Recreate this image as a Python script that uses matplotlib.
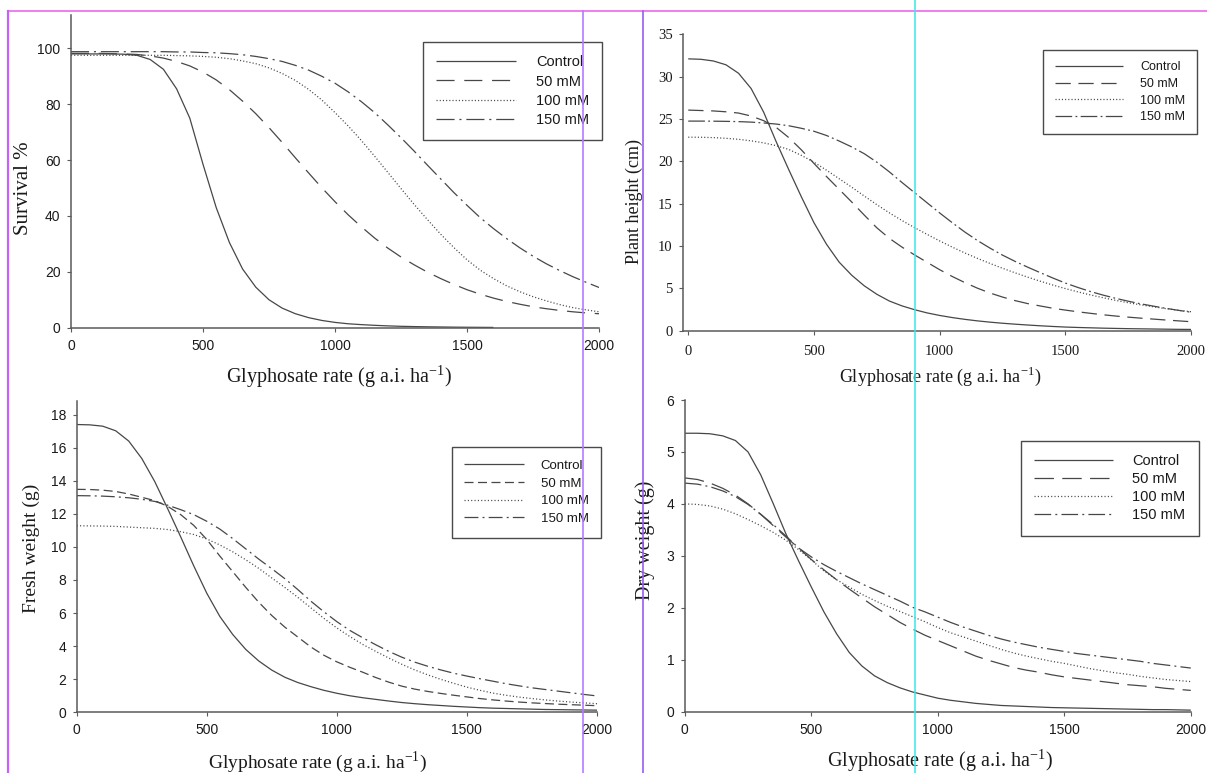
import numpy as np
import matplotlib
matplotlib.use("Agg")
import matplotlib.pyplot as plt
from matplotlib.lines import Line2D

plt.rcParams["lines.scale_dashes"] = False
plt.rcParams["mathtext.fontset"] = "custom"
plt.rcParams["mathtext.rm"] = "Liberation Serif"

# ---------------------------------------------------------------- data
rates = np.arange(0, 2001, 50)          # glyphosate rate, g a.i. ha-1
treatments = ["Control", "50 mM", "100 mM", "150 mM"]
x_ticks = [0, 500, 1000, 1500, 2000]

# Survival (%) -- the control curve stops at 1600
survival_rates_control = rates[:33]
survival_control = [98.0, 98.0, 98.0, 98.0, 97.9, 97.5, 96.0, 92.5, 85.5, 75.0, 58.5,
                    43.0, 30.5, 21.0, 14.5, 10.0, 7.0, 5.0, 3.6, 2.6, 1.9,
                    1.4, 1.1, 0.85, 0.65, 0.5, 0.4, 0.32, 0.26, 0.2, 0.16, 0.13, 0.1]
survival_50 = [98.2, 98.2, 98.2, 98.1, 98.0, 97.8, 97.3, 96.5, 95.3, 93.7, 91.5,
               88.7, 85.2, 81.1, 76.6, 71.6, 66.3, 60.8, 55.4, 50.1, 45.1,
               40.4, 36.1, 32.1, 28.5, 25.3, 22.5, 19.9, 17.6, 15.5, 13.6,
               12.0, 10.6, 9.4, 8.4, 7.5, 6.8, 6.2, 5.7, 5.3, 5.0]
survival_100 = [97.5, 97.5, 97.5, 97.5, 97.5, 97.5, 97.5, 97.5, 97.4, 97.3, 97.1,
                96.8, 96.3, 95.5, 94.5, 93.0, 91.0, 88.5, 85.3, 81.5, 77.0,
                72.2, 67.0, 61.4, 55.6, 49.8, 44.1, 38.7, 33.5, 28.7, 24.3,
                20.6, 17.6, 15.0, 12.9, 11.1, 9.6, 8.3, 7.2, 6.4, 5.7]
survival_150 = [98.8, 98.8, 98.8, 98.8, 98.8, 98.8, 98.8, 98.8, 98.7, 98.7, 98.5,
                98.4, 98.1, 97.7, 97.1, 96.3, 95.3, 93.9, 92.2, 90.0, 87.5,
                84.4, 80.9, 77.0, 72.6, 68.0, 63.2, 58.2, 53.3, 48.4, 43.8,
                39.4, 35.5, 31.9, 28.6, 25.6, 22.9, 20.5, 18.3, 16.3, 14.4]

# Plant height (cm)
height_control = [32.1, 32.05, 31.85, 31.4, 30.4, 28.6, 25.8, 22.3, 19.0, 15.8, 12.75,
                  10.2, 8.1, 6.55, 5.3, 4.3, 3.5, 2.93, 2.48, 2.1, 1.8,
                  1.55, 1.34, 1.16, 1.01, 0.88, 0.77, 0.67, 0.58, 0.5, 0.43,
                  0.38, 0.34, 0.3, 0.27, 0.24, 0.22, 0.2, 0.18, 0.16, 0.15]
height_50 = [26.05, 26.0, 25.95, 25.85, 25.7, 25.35, 24.8, 24.0, 22.8, 21.35, 19.75,
             18.2, 16.7, 15.2, 13.65, 12.15, 10.9, 9.87, 8.95, 8.07, 7.2,
             6.4, 5.68, 5.02, 4.45, 3.97, 3.55, 3.2, 2.92, 2.65, 2.43,
             2.23, 2.05, 1.88, 1.73, 1.6, 1.48, 1.37, 1.26, 1.16, 1.06]
height_100 = [22.85, 22.84, 22.8, 22.72, 22.6, 22.42, 22.18, 21.85, 21.4, 20.7, 19.9,
              18.95, 17.95, 16.95, 15.9, 14.88, 13.91, 13.01, 12.17, 11.37, 10.6,
              9.87, 9.18, 8.54, 7.94, 7.37, 6.83, 6.32, 5.84, 5.39, 4.97,
              4.58, 4.22, 3.89, 3.58, 3.3, 3.05, 2.82, 2.6, 2.41, 2.24]
height_150 = [24.75, 24.75, 24.74, 24.72, 24.69, 24.63, 24.53, 24.4, 24.2, 23.9, 23.55,
              23.05, 22.4, 21.7, 20.9, 19.9, 18.75, 17.5, 16.3, 15.1, 13.9,
              12.75, 11.65, 10.65, 9.75, 8.92, 8.18, 7.5, 6.85, 6.22, 5.62,
              5.1, 4.62, 4.2, 3.82, 3.48, 3.17, 2.9, 2.64, 2.4, 2.18]

# Fresh weight (g)
fresh_control = [17.4, 17.38, 17.3, 17.02, 16.4, 15.35, 13.95, 12.3, 10.6, 8.85, 7.2,
                 5.8, 4.7, 3.8, 3.1, 2.55, 2.12, 1.8, 1.55, 1.33, 1.15,
                 1.0, 0.88, 0.78, 0.68, 0.59, 0.52, 0.46, 0.41, 0.36, 0.32,
                 0.28, 0.25, 0.23, 0.21, 0.19, 0.17, 0.16, 0.15, 0.14, 0.13]
fresh_50 = [13.48, 13.47, 13.43, 13.35, 13.2, 13.0, 12.8, 12.45, 11.95, 11.3, 10.45,
            9.45, 8.5, 7.55, 6.65, 5.85, 5.15, 4.55, 3.95, 3.45, 3.05,
            2.72, 2.42, 2.1, 1.82, 1.58, 1.4, 1.26, 1.14, 1.03, 0.93,
            0.83, 0.75, 0.68, 0.62, 0.57, 0.53, 0.49, 0.46, 0.43, 0.4]
fresh_100 = [11.28, 11.27, 11.26, 11.24, 11.2, 11.16, 11.12, 11.05, 10.92, 10.75, 10.48,
             10.12, 9.7, 9.22, 8.7, 8.12, 7.55, 6.95, 6.32, 5.68, 5.1,
             4.58, 4.1, 3.68, 3.28, 2.9, 2.56, 2.26, 1.99, 1.75, 1.52,
             1.33, 1.16, 1.03, 0.92, 0.83, 0.75, 0.68, 0.62, 0.57, 0.52]
fresh_150 = [13.1, 13.09, 13.07, 13.03, 12.97, 12.88, 12.75, 12.52, 12.25, 11.95, 11.55,
             11.08, 10.5, 9.88, 9.26, 8.68, 8.08, 7.42, 6.72, 6.08, 5.48,
             4.95, 4.5, 4.08, 3.68, 3.33, 3.03, 2.78, 2.56, 2.36, 2.19,
             2.03, 1.88, 1.73, 1.6, 1.48, 1.38, 1.28, 1.18, 1.08, 0.99]

# Dry weight (g)
dry_control = [5.36, 5.36, 5.35, 5.31, 5.22, 5.0, 4.56, 4.0, 3.42, 2.9, 2.4,
               1.92, 1.5, 1.14, 0.88, 0.69, 0.56, 0.46, 0.38, 0.32, 0.26,
               0.22, 0.19, 0.16, 0.14, 0.12, 0.11, 0.1, 0.09, 0.08, 0.075,
               0.07, 0.065, 0.06, 0.055, 0.05, 0.045, 0.04, 0.04, 0.035, 0.03]
dry_50 = [4.5, 4.47, 4.4, 4.3, 4.17, 4.0, 3.8, 3.58, 3.36, 3.15, 2.93,
          2.73, 2.54, 2.36, 2.19, 2.02, 1.87, 1.72, 1.59, 1.47, 1.37,
          1.27, 1.17, 1.07, 0.99, 0.92, 0.85, 0.8, 0.76, 0.71, 0.67,
          0.64, 0.61, 0.58, 0.55, 0.52, 0.5, 0.48, 0.45, 0.43, 0.41]
dry_100 = [4.0, 3.99, 3.96, 3.9, 3.81, 3.7, 3.58, 3.45, 3.3, 3.12, 2.92,
           2.71, 2.54, 2.4, 2.26, 2.14, 2.03, 1.93, 1.83, 1.73, 1.62,
           1.52, 1.44, 1.36, 1.28, 1.2, 1.13, 1.07, 1.02, 0.97, 0.93,
           0.88, 0.83, 0.79, 0.75, 0.72, 0.68, 0.65, 0.62, 0.6, 0.58]
dry_150 = [4.4, 4.38, 4.33, 4.25, 4.14, 3.99, 3.8, 3.6, 3.38, 3.15, 2.98,
           2.83, 2.7, 2.58, 2.46, 2.35, 2.24, 2.13, 2.01, 1.92, 1.82,
           1.72, 1.63, 1.55, 1.47, 1.4, 1.34, 1.29, 1.24, 1.2, 1.16,
           1.12, 1.09, 1.06, 1.03, 1.0, 0.97, 0.93, 0.9, 0.87, 0.84]

# ---------------------------------------------------------------- figure
W, H = 1207, 773
fig = plt.figure(figsize=(W / 100, H / 100), dpi=100)
fig.patch.set_facecolor("white")

AXIS = "#5a5a5a"
CURVE = "#474747"
TEXT = "#1a1a1a"
SANS = "Liberation Sans"
SERIF = "Liberation Serif"
XLABEL = r"Glyphosate rate (g a.i. ha$^{\mathregular{-1}}$)"


def make_axes(left, right, top, bottom):
    """Axes placed by its pixel edges (origin at the top-left corner)."""
    return fig.add_axes([left / W, 1 - bottom / H, (right - left) / W, (bottom - top) / H])


def style_axes(ax, xlim, ylim, yticks, family, size, xpad, ypad):
    ax.set_xlim(*xlim)
    ax.set_ylim(*ylim)
    ax.set_xticks(x_ticks)
    ax.set_yticks(yticks)
    for side in ("top", "right"):
        ax.spines[side].set_visible(False)
    for side in ("left", "bottom"):
        ax.spines[side].set_color(AXIS)
        ax.spines[side].set_linewidth(1.1)
    ax.tick_params(direction="out", length=3, width=0.8, color=AXIS,
                   labelcolor=TEXT, labelsize=size)
    ax.tick_params(axis="x", pad=xpad)
    ax.tick_params(axis="y", pad=ypad)
    for lab in ax.get_xticklabels() + ax.get_yticklabels():
        lab.set_family(family)
    ax.patch.set_visible(False)


def draw_curves(ax, xs_list, ys_list, styles):
    handles = []
    for xs, ys, ls, name in zip(xs_list, ys_list, styles, treatments):
        h, = ax.plot(xs, ys, color=CURVE, lw=0.9, linestyle=ls, label=name,
                     solid_capstyle="butt", dash_capstyle="butt",
                     solid_joinstyle="round")
        handles.append(h)
    return handles


def add_legend(ax, handles, left, top, size, hlen, htpad, lspace, bpad):
    leg = ax.legend(handles=handles, loc="upper left",
                    bbox_to_anchor=(left / W, 1 - top / H),
                    bbox_transform=fig.transFigure, borderaxespad=0,
                    frameon=True, fancybox=False, framealpha=1,
                    prop={"family": SANS, "size": size}, handlelength=hlen,
                    handletextpad=htpad, labelspacing=lspace, borderpad=bpad)
    leg.get_frame().set_edgecolor("#4a4a4a")
    leg.get_frame().set_linewidth(1.0)
    for t in leg.get_texts():
        t.set_color(TEXT)
    return leg


def set_labels(ax, xcenter, xbase, xsize, ytext, ycenter_x, ycenter_y, ysize):
    ax.set_xlabel(XLABEL, family=SERIF, fontsize=xsize, color=TEXT, va="baseline")
    ax.xaxis.set_label_coords(xcenter / W, 1 - xbase / H, transform=fig.transFigure)
    ax.set_ylabel(ytext, family=SERIF, fontsize=ysize, color=TEXT, va="center")
    ax.yaxis.set_label_coords(ycenter_x / W, 1 - ycenter_y / H, transform=fig.transFigure)


# ---- Survival %
ax1 = make_axes(71, 599, 14.8, 327.7)
style_axes(ax1, (0, 2000), (0, 112), [0, 20, 40, 60, 80, 100], SANS, 10, 5.0, 4.5)
h1 = draw_curves(ax1,
                 [survival_rates_control, rates, rates, rates],
                 [survival_control, survival_50, survival_100, survival_150],
                 ["-", (0, (13, 7)), (0, (0.8, 1.5)), (0, (13, 3.5, 1.5, 3.5))])
add_legend(ax1, h1, 423, 42, 10.5, 5.45, 1.4, 0.37, 0.9)
set_labels(ax1, 339, 383, 14.5, "Survival %", 23.5, 188.5, 15)

# ---- Plant height (cm)
ax2 = make_axes(683.2, 1191.2, 34.3, 330.7)
style_axes(ax2, (-20, 2000), (0, 35), [0, 5, 10, 15, 20, 25, 30, 35], SERIF, 10.5, 7.0, 4.5)
h2 = draw_curves(ax2, [rates] * 4,
                 [height_control, height_50, height_100, height_150],
                 ["-", (0, (11, 5.5)), (0, (0.8, 1.5)), (0, (12, 2.4, 1.3, 2.4))])
add_legend(ax2, h2, 1043.3, 50, 9, 5.45, 1.42, 0.37, 0.9)
set_labels(ax2, 940, 381.5, 13, "Plant height (cm)", 634, 201, 13)

# ---- Fresh weight (g)
ax3 = make_axes(76.7, 597, 400.7, 712.3)
style_axes(ax3, (0, 2000), (0, 18.84), [0, 2, 4, 6, 8, 10, 12, 14, 16, 18], SANS, 10, 5.0, 4.5)
h3 = draw_curves(ax3, [rates] * 4,
                 [fresh_control, fresh_50, fresh_100, fresh_150],
                 ["-", (0, (6.5, 3.2)), (0, (0.8, 1.6)), (0, (10, 3, 1.4, 3))])
add_legend(ax3, h3, 451.8, 447.3, 9.5, 4.5, 1.3, 0.41, 0.95)
set_labels(ax3, 318, 768, 14, "Fresh weight (g)", 31, 548, 14)

# ---- Dry weight (g)
ax4 = make_axes(684.8, 1190.8, 400, 711.7)
style_axes(ax4, (0, 2000), (0, 6), [0, 1, 2, 3, 4, 5, 6], SANS, 10, 5.0, 4.5)
h4 = draw_curves(ax4, [rates] * 4,
                 [dry_control, dry_50, dry_100, dry_150],
                 ["-", (0, (14, 6)), (0, (0.8, 1.6)), (0, (12, 3, 1.4, 3))])
add_legend(ax4, h4, 1020.8, 441, 10.5, 5.4, 1.32, 0.27, 0.92)
set_labels(ax4, 940, 766.5, 14.5, "Dry weight (g)", 645.5, 540, 14.5)

# ---- layout guides across the sheet
guides = [
    ((7.7, 11.3), (W, 11.3), "#ee66ee", 1.2),
    ((7.7, 11.3), (7.7, H), "#c862f2", 1.6),
    ((582.6, 11.3), (582.6, H), "#b47cff", 1.2),
    ((642.8, 11.3), (642.8, H), "#9a5cf0", 1.2),
    ((915.3, 0), (915.3, H), "#3ae6e6", 1.1),
]
for (x0, y0), (x1, y1), col, lw in guides:
    fig.add_artist(Line2D([x0 / W, x1 / W], [1 - y0 / H, 1 - y1 / H],
                          transform=fig.transFigure, color=col, lw=lw, zorder=10))

fig.savefig("out.png", dpi=100, facecolor="white")
